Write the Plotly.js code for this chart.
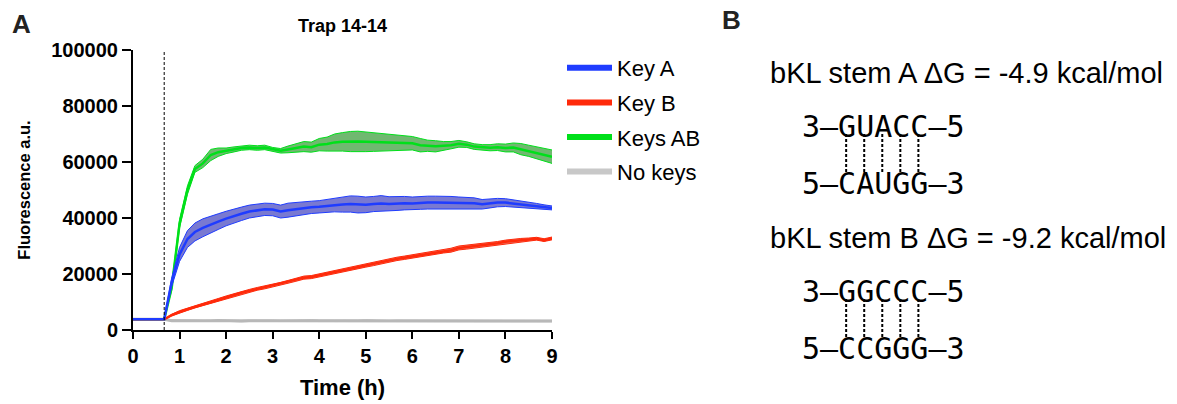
<!DOCTYPE html>
<html><head><meta charset="utf-8">
<script src="https://cdn.plot.ly/plotly-3.0.1.min.js"></script>
<style>html,body{margin:0;padding:0;background:#fff}#chart{width:1177px;height:404px}</style>
</head><body><div id="chart"></div>
<script>
// ---------------- DATA ----------------
const timeHours = [0, 0.17, 0.33, 0.5, 0.67, 0.83, 1, 1.17, 1.33, 1.5, 1.67, 1.83,
  2, 2.17, 2.33, 2.5, 2.67, 2.83, 3, 3.17, 3.33, 3.5, 3.67, 3.83,
  4, 4.17, 4.33, 4.5, 4.67, 4.83, 5, 5.17, 5.33, 5.5, 5.67, 5.83,
  6, 6.17, 6.33, 6.5, 6.67, 6.83, 7, 7.17, 7.33, 7.5, 7.67, 7.83,
  8, 8.17, 8.33, 8.5, 8.67, 8.83, 9];
const keyAdditionTime = 0.67;

const keyAMean = [3800, 3800, 3800, 3800, 3800, 17000, 27000, 32500, 35000, 36500, 37500, 38700,
  39800, 40800, 41500, 42300, 42800, 43100, 43000, 42300, 42800, 43200, 43500, 43800,
  44000, 44300, 44700, 44800, 45000, 44800, 44700, 45000, 45200, 45000, 45200, 45300,
  45200, 45400, 45500, 45500, 45500, 45500, 45400, 45300, 45300, 44900, 45200, 45500,
  45500, 45200, 45000, 44600, 44300, 43900, 43600];
const keyASd = [0, 0, 0, 0, 0, 1500, 2500, 3000, 3200, 3200, 3000, 2800,
  2600, 2500, 2400, 2300, 2200, 2200, 2200, 2300, 2500, 2400, 2300, 2200,
  2200, 2300, 2500, 2700, 2900, 3000, 2800, 2700, 2800, 2600, 2500, 2400,
  2300, 2300, 2300, 2300, 2300, 2200, 2100, 2000, 1900, 1700, 1600, 1500,
  1400, 1300, 1200, 1000, 900, 800, 700];

const keyBMean = [3800, 3800, 3800, 3800, 3800, 5300, 6500, 7400, 8300, 9100, 9900, 10800,
  11700, 12500, 13300, 14000, 14700, 15200, 15800, 16500, 17200, 17900, 18700, 18900,
  19500, 20200, 20900, 21500, 22000, 22400, 23000, 23600, 24200, 24800, 25400, 25800,
  26300, 26700, 27100, 27600, 28100, 28500, 29300, 29600, 29900, 30300, 30600, 31000,
  31500, 31800, 32100, 32300, 32600, 32100, 32700];
const keyBSd = [0, 0, 0, 0, 0, 300, 400, 400, 400, 400, 450, 450,
  450, 500, 500, 500, 500, 500, 500, 500, 500, 500, 550, 550,
  550, 550, 550, 550, 550, 550, 550, 600, 600, 600, 600, 600,
  600, 600, 600, 600, 600, 700, 700, 700, 650, 600, 600, 600,
  600, 650, 600, 550, 500, 500, 500];

const keysABMean = [3800, 3800, 3800, 3800, 3800, 15000, 38000, 50000, 57500, 59500, 62500, 63500,
  64000, 64500, 65000, 65200, 65000, 65200, 64500, 64000, 64500, 65000, 65500, 65300,
  66200, 66400, 67000, 67200, 67300, 67300, 67200, 67100, 67000, 67000, 66800, 66700,
  66700, 66000, 65800, 65600, 65800, 66000, 66500, 66200, 65500, 65200, 65100, 65300,
  65000, 65200, 64600, 64000, 63300, 62500, 61900];
const keysABSd = [0, 0, 0, 0, 0, 800, 1500, 1500, 1200, 1500, 2000, 1500,
  1000, 900, 800, 800, 800, 800, 700, 800, 1200, 1500, 1800, 1800,
  2200, 2500, 3000, 3300, 3600, 3700, 3500, 3300, 3100, 3000, 2800, 2600,
  2400, 2400, 2000, 2000, 1500, 1300, 1200, 1000, 1000, 1000, 1100, 1200,
  1400, 1600, 2000, 2000, 2200, 2300, 2400];

const noKeysMean = [3800, 3800, 3800, 3800, 3800, 3300, 3400, 3300, 3300, 3200, 3300, 3400,
  3300, 3300, 3200, 3300, 3300, 3400, 3300, 3200, 3300, 3300, 3300, 3400,
  3300, 3200, 3300, 3300, 3200, 3300, 3400, 3300, 3300, 3200, 3300, 3300,
  3300, 3200, 3300, 3300, 3200, 3300, 3300, 3400, 3300, 3200, 3200, 3300,
  3200, 3200, 3200, 3200, 3200, 3200, 3200];
const noKeysSd = [0, 0, 0, 0, 0, 250, 250, 250, 250, 250, 250, 250,
  250, 250, 250, 250, 250, 250, 250, 250, 250, 250, 250, 250,
  250, 250, 250, 250, 250, 250, 250, 250, 250, 250, 250, 250,
  250, 250, 250, 250, 250, 250, 250, 250, 250, 250, 250, 250,
  250, 250, 250, 250, 250, 250, 250];

const seriesNames = ['Key A', 'Key B', 'Keys AB', 'No keys'];
const yTickVals = [0, 20000, 40000, 60000, 80000, 100000];
const yTickText = ['0', '20000', '40000', '60000', '80000', '100000'];
const xTickVals = [0, 1, 2, 3, 4, 5, 6, 7, 8, 9];

const stemAHeading = 'bKL stem A \u0394G = -4.9 kcal/mol';
const stemBHeading = 'bKL stem B \u0394G = -9.2 kcal/mol';
const stemATop = '3\u2013GUACC\u20135';
const stemABottom = '5\u2013CAUGG\u20133';
const stemBTop = '3\u2013GGCCC\u20135';
const stemBBottom = '5\u2013CCGGG\u20133';

// ---------------- LAYOUT HELPERS ----------------
const FIG_W = 1177, FIG_H = 404;
const M = {l: 133, r: 625, t: 50, b: 74};
const PW = FIG_W - M.l - M.r, PH = FIG_H - M.t - M.b;
const px = X => (X - M.l) / PW;
const py = Y => (FIG_H - M.b - Y) / PH;
const SANS = 'Arial, "Liberation Sans", sans-serif';
const MONO = '"DejaVu Sans Mono", monospace';

const styles = {
  'Key A':   {line: '#1f3cff', fill: 'rgba(110,110,205,0.92)', w: 2.5},
  'Key B':   {line: '#ff2a0a', fill: 'rgba(225,110,95,0.9)', w: 2.5},
  'Keys AB': {line: '#00e01a', fill: 'rgba(100,178,100,0.92)', w: 2.5},
  'No keys': {line: '#b8b8b8', fill: 'rgba(160,160,160,0.9)', w: 3}
};
const legendColors = {'Key A': '#1f3cff', 'Key B': '#ff2a0a', 'Keys AB': '#00e01a', 'No keys': '#c8c8c8'};
const dataBy = {
  'Key A': [keyAMean, keyASd],
  'Key B': [keyBMean, keyBSd],
  'Keys AB': [keysABMean, keysABSd],
  'No keys': [noKeysMean, noKeysSd]
};

function bandTraces(name) {
  const [mean, sd] = dataBy[name];
  const st = styles[name];
  const lower = mean.map((m, i) => m - sd[i]);
  const upper = mean.map((m, i) => m + sd[i]);
  return [
    {x: timeHours, y: lower, mode: 'lines', line: {color: st.line, width: 1}, showlegend: false, hoverinfo: 'skip'},
    {x: timeHours, y: upper, mode: 'lines', line: {color: st.line, width: 1}, fill: 'tonexty', fillcolor: st.fill, showlegend: false, hoverinfo: 'skip'},
    {x: timeHours, y: mean, mode: 'lines', line: {color: st.line, width: st.w}, showlegend: false, name: name}
  ];
}

const drawOrder = ['No keys', 'Keys AB', 'Key B', 'Key A'];
let traces = [];
drawOrder.forEach(n => { traces = traces.concat(bandTraces(n)); });
seriesNames.forEach(n => {
  traces.push({x: [null], y: [null], mode: 'lines', name: n, legendgroup: n,
    line: {color: legendColors[n], width: 6}, showlegend: true});
});

// pairing dashes for the sequences
const SEQ_FONT = 30, ADV = 0.602 * SEQ_FONT, SEQ_X = 800;
const shapes = [
  {type: 'line', xref: 'x', yref: 'y', x0: keyAdditionTime, x1: keyAdditionTime, y0: 0, y1: 100000,
   line: {color: '#000', width: 1, dash: '3px,2px'}}
];
[[134, 173], [299, 338]].forEach(([y0, y1]) => {
  for (let k = 0; k < 5; k++) {
    const X = SEQ_X + 1 + (2.5 + k) * ADV;
    shapes.push({type: 'line', xref: 'paper', yref: 'paper', x0: px(X), x1: px(X), y0: py(y0), y1: py(y1),
      line: {color: '#000', width: 2, dash: '3px,2px'}});
  }
});

function ann(text, X, Y, font, xanchor) {
  return {text: text, x: px(X), y: py(Y), xref: 'paper', yref: 'paper', xanchor: xanchor || 'left', yanchor: 'middle',
    showarrow: false, font: font};
}
const headFont = {family: SANS, size: 29, color: '#000'};
const seqFont = {family: MONO, size: SEQ_FONT, color: '#000'};
const annotations = [
  ann('A', 21, 24, {family: SANS, size: 26, color: '#222', weight: 'bold'}, 'center'),
  ann('B', 731, 20, {family: SANS, size: 26, color: '#222', weight: 'bold'}, 'center'),
  ann(stemAHeading, 768, 73, headFont),
  ann(stemATop, SEQ_X, 126, seqFont),
  ann(stemABottom, SEQ_X, 183, seqFont),
  ann(stemBHeading, 768, 238, headFont),
  ann(stemBTop, SEQ_X, 291, seqFont),
  ann(stemBBottom, SEQ_X, 348, seqFont)
];

const layout = {
  width: FIG_W, height: FIG_H,
  margin: M,
  paper_bgcolor: '#fff', plot_bgcolor: '#fff',
  font: {family: SANS, color: '#000'},
  title: {text: 'Trap 14-14', x: 0.5, xref: 'paper', xanchor: 'center', y: 1 - 26 / FIG_H, yref: 'container', yanchor: 'middle',
    font: {family: SANS, size: 18, weight: 'bold', color: '#000'}},
  xaxis: {range: [0, 9], tickvals: xTickVals, ticks: 'outside', ticklen: 7, tickwidth: 2, tickcolor: '#000',
    showline: true, linewidth: 2, linecolor: '#000', showgrid: false, zeroline: false,
    tickfont: {family: SANS, size: 20, weight: 'bold', color: '#000'},
    title: {text: 'Time (h)', standoff: 14, font: {family: SANS, size: 22, weight: 'bold', color: '#000'}}},
  yaxis: {range: [0, 100000], tickvals: yTickVals, ticktext: yTickText, ticks: 'outside', ticklen: 9, tickwidth: 2, tickcolor: '#000',
    showline: true, linewidth: 2, linecolor: '#000', showgrid: false, zeroline: false,
    tickfont: {family: SANS, size: 20, weight: 'bold', color: '#000'},
    title: {text: 'Fluorescence a.u.', standoff: 16, font: {family: SANS, size: 16.5, weight: 'bold', color: '#000'}}},
  legend: {x: px(562), y: py(47), xanchor: 'left', yanchor: 'top', bgcolor: 'rgba(0,0,0,0)', traceorder: 'grouped',
    font: {family: SANS, size: 22, color: '#000'}, itemwidth: 45, tracegroupgap: 3},
  shapes: shapes,
  annotations: annotations,
  showlegend: true
};

Plotly.newPlot('chart', traces, layout, {staticPlot: true, displayModeBar: false});
</script>
</body></html>
